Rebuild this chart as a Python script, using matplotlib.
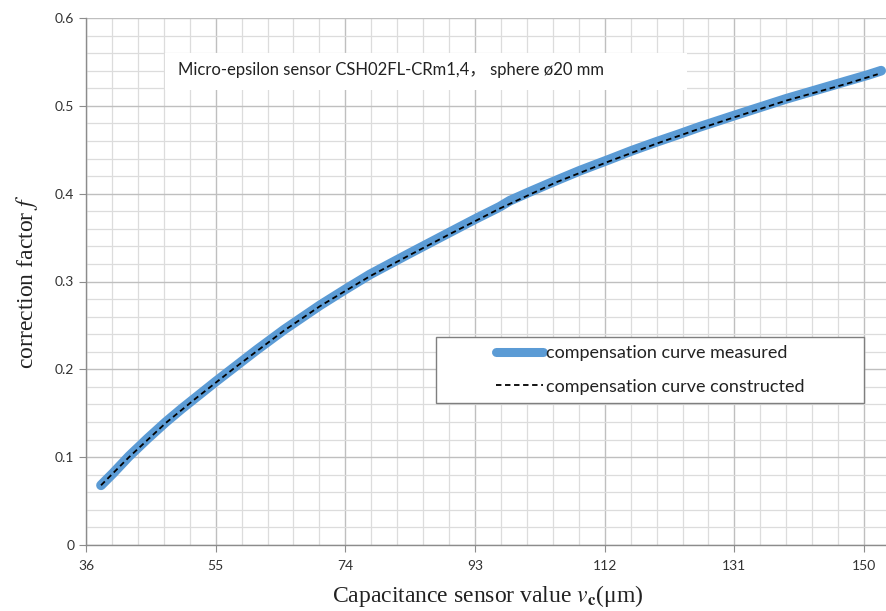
import numpy as np
import matplotlib
matplotlib.use("Agg")
import matplotlib.pyplot as plt
from matplotlib.ticker import FixedLocator, MultipleLocator
from matplotlib.lines import Line2D
from matplotlib.patches import Rectangle

# measured compensation curve (sensor value in um, correction factor)
v_measured = [38.2, 40.0, 42.3, 45.0, 47.7, 50.0, 52.1, 55.0, 57.5, 61.0, 65.0,
              70.3, 74.0, 77.6, 83.4, 89.3, 93.0, 96.6, 98.1, 101.0, 104.9,
              108.3, 112.7, 116.0, 119.6, 123.0, 125.9, 131.0, 135.0, 138.6,
              143.0, 147.4, 150.5, 152.5]
f_measured = [0.068, 0.082, 0.101, 0.121, 0.140, 0.155, 0.168, 0.186, 0.201,
              0.222, 0.245, 0.273, 0.291, 0.308, 0.332, 0.356, 0.371, 0.385,
              0.392, 0.402, 0.415, 0.426, 0.439, 0.449, 0.459, 0.468, 0.476,
              0.489, 0.499, 0.508, 0.518, 0.528, 0.535, 0.540]

# constructed (fitted) curve
v_constructed = [38.2, 42.3, 47.7, 52.1, 57.5, 65.0, 70.3, 77.6, 83.4, 89.3,
                 96.6, 104.9, 112.7, 119.6, 125.9, 131.0, 138.6, 147.4, 152.0]
f_constructed = [0.068, 0.100, 0.139, 0.167, 0.200, 0.244, 0.272, 0.306, 0.330,
                 0.354, 0.383, 0.413, 0.437, 0.457, 0.474, 0.487, 0.506, 0.525,
                 0.536]

x_ticks = [36, 55, 74, 93, 112, 131, 150]
y_ticks = [0, 0.1, 0.2, 0.3, 0.4, 0.5, 0.6]
y_tick_labels = ["0", "0.1", "0.2", "0.3", "0.4", "0.5", "0.6"]
title_text = "Micro-epsilon sensor CSH02FL-CRm1,4\uff0c sphere \u00f820 mm"

plt.rcParams["mathtext.fontset"] = "stix"

fig = plt.figure(figsize=(8.86, 6.11), dpi=100)
ax = fig.add_axes([86 / 886, 66 / 611, 804 / 886, 527 / 611])

ax.set_xlim(36, 153.8)
ax.set_ylim(0, 0.6)

ax.xaxis.set_major_locator(FixedLocator(x_ticks))
ax.xaxis.set_minor_locator(FixedLocator(np.arange(36, 154, 3.8)))
ax.yaxis.set_major_locator(FixedLocator(y_ticks))
ax.yaxis.set_minor_locator(MultipleLocator(0.02))
ax.set_yticklabels(y_tick_labels)

ax.grid(which="major", color="#bfbfbf", lw=1.0, zorder=0)
ax.grid(which="minor", color="#dcdcdc", lw=0.9, zorder=0)
ax.set_axisbelow(True)

for side in ["top", "right"]:
    ax.spines[side].set_visible(False)
for side in ["left", "bottom"]:
    ax.spines[side].set_color("#8c8c8c")
    ax.spines[side].set_linewidth(1.0)

ax.tick_params(which="major", length=5, color="#8c8c8c", labelcolor="#333333",
               labelsize=10)
ax.tick_params(which="minor", length=0)
for lbl in ax.get_xticklabels() + ax.get_yticklabels():
    lbl.set_family("Lato")
ax.tick_params(axis="x", pad=6)

ax.plot(v_measured, f_measured, color="#5b9bd5", lw=7,
        solid_capstyle="round", solid_joinstyle="round", zorder=2)
ax.plot(v_constructed, f_constructed, color="black", lw=1.3,
        dashes=(3, 2), zorder=3)

ax.set_xlabel(r"Capacitance sensor value $v_\mathbf{c}$(μm)",
              family="Liberation Serif", fontsize=17, color="#222222",
              labelpad=8)
ax.set_ylabel(r"correction factor $f$", family="Liberation Serif",
              fontsize=17, color="#222222", labelpad=11)

# white box behind the sensor description
ax.add_patch(Rectangle((0.0983, 0.8634), 0.6492, 0.0702, transform=ax.transAxes,
                       facecolor="white", edgecolor="none", zorder=4))
ax.text(0.1144, 0.901, title_text, transform=ax.transAxes,
        family=["Lato", "Noto Sans CJK SC"], fontsize=12, color="#222222",
        va="center", ha="left", zorder=5)

# legend frame
ax.add_patch(Rectangle((0.435, 0.2694), 0.5327, 0.1253, transform=ax.transAxes,
                       facecolor="white", edgecolor="#7f7f7f", lw=1.0, zorder=4))
handles = [
    Line2D([], [], color="#5b9bd5", lw=6.5, solid_capstyle="round"),
    Line2D([], [], color="black", lw=1.3, dashes=(3, 2)),
]
leg = ax.legend(handles, ["compensation curve measured",
                          "compensation curve constructed"],
                loc="center", bbox_to_anchor=(0.7015, 0.332), frameon=False,
                prop={"family": "Lato", "size": 13}, handlelength=2.6,
                handletextpad=0.15, labelspacing=0.95)
leg.set_zorder(6)
for t in leg.get_texts():
    t.set_color("#222222")

fig.savefig("out.png", dpi=100)
